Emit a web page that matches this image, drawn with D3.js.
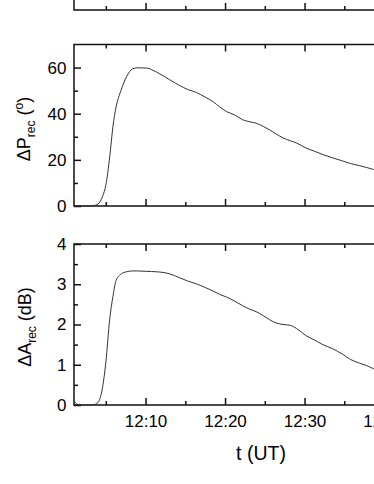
<!DOCTYPE html>
<html>
<head>
<meta charset="utf-8">
<script src="https://cdn.jsdelivr.net/npm/d3@7"></script>
<style>
  body { margin: 0; background: #fff; }
  svg { display: block; }
  text { font-family: "Liberation Sans", Arial, sans-serif; fill: #000; }
</style>
</head>
<body>
<script>
// minutes after 12:00 UT
var times = [1.0, 1.4, 2.0, 3.0, 3.5, 4.0, 4.3, 4.6, 5.0, 5.5, 5.9, 6.3, 6.9, 7.6,
             8.4, 9.0, 10.1, 11.4, 13.0, 14.3, 15.3, 16.4, 17.5, 18.5, 19.3, 20.2,
             21.2, 22.2, 23.1, 23.9, 24.8, 25.6, 26.4, 27.3, 28.2, 29.0, 30.2, 31.2,
             32.3, 33.5, 34.8, 35.8, 36.9, 37.8, 38.7, 40.0];

// phase change (degrees)
var phase = [0, 0, 0, 0, 0.2, 0.8, 2, 4.2, 9, 21.5, 34.5, 43, 50, 56,
             59.5, 59.9, 59.8, 58.0, 54.8, 52.2, 50.5, 49.2, 47.2, 45.2, 43, 40.9,
             39.5, 37.4, 36.5, 35.9, 34.5, 33.0, 31.3, 29.5, 28.3, 27.3, 25.1, 23.8,
             22.3, 20.9, 19.5, 18.4, 17.5, 16.7, 15.8, 14.8];

// amplitude change (dB)
var ampl = [0.1, 0.02, 0, 0, 0.01, 0.06, 0.18, 0.45, 1.05, 2.15, 2.7, 3.1, 3.25, 3.31,
            3.33, 3.33, 3.32, 3.31, 3.26, 3.16, 3.08, 3.01, 2.92, 2.83, 2.75, 2.68,
            2.58, 2.47, 2.38, 2.32, 2.22, 2.12, 2.04, 2.0, 1.98, 1.9, 1.72, 1.62,
            1.5, 1.4, 1.26, 1.13, 1.04, 0.98, 0.9, 0.82];

var xMajor = [10, 20, 30, 40];
var xMinor = [5, 15, 25, 35];
var phaseMajor = [0, 20, 40, 60];
var phaseMinor = [10, 30, 50];
var amplMajor = [0, 1, 2, 3, 4];
var amplMinor = [0.5, 1.5, 2.5, 3.5];

var width = 374, height = 484;
var left = 74, right = 392;

var svg = d3.select('body').append('svg')
    .attr('width', width)
    .attr('height', height);

var x = d3.scaleLinear().domain([1, 41]).range([left, right]);
var yP = d3.scaleLinear().domain([0, 70]).range([206, 44.5]);
var yA = d3.scaleLinear().domain([0, 4]).range([405, 244]);

function fmtTime(d) { return '12:' + d3.format('02')(d); }

function frame(top, bottom) {
    svg.append('rect')
        .attr('x', left).attr('y', top)
        .attr('width', right - left).attr('height', bottom - top)
        .attr('fill', 'none')
        .attr('stroke', '#111')
        .attr('stroke-width', 1.5);
}

function xTicks(yPos, dir, labels) {
    var mk = dir === 'bottom' ? d3.axisBottom : d3.axisTop;
    svg.append('g')
        .attr('transform', 'translate(0,' + yPos + ')')
        .call(mk(x).tickValues(xMajor).tickSize(-7).tickPadding(10)
            .tickFormat(labels ? fmtTime : ''));
    svg.append('g')
        .attr('transform', 'translate(0,' + yPos + ')')
        .call(mk(x).tickValues(xMinor).tickSize(-4).tickFormat(''));
}

function yTicks(scale, major, minor) {
    svg.append('g')
        .attr('transform', 'translate(' + left + ',0)')
        .call(d3.axisLeft(scale).tickValues(major).tickSize(-7).tickPadding(7.5)
            .tickFormat(d3.format('d')));
    svg.append('g')
        .attr('transform', 'translate(' + left + ',0)')
        .call(d3.axisLeft(scale).tickValues(minor).tickSize(-4).tickFormat(''));
}

// top panel (only its bottom edge is visible)
frame(-100, 10);
xTicks(10, 'bottom', false);

// middle panel: phase
frame(44.5, 206);
xTicks(44.5, 'top', false);
xTicks(206, 'bottom', false);
yTicks(yP, phaseMajor, phaseMinor);

// bottom panel: amplitude
frame(244, 405);
xTicks(244, 'top', false);
xTicks(405, 'bottom', true);
yTicks(yA, amplMajor, amplMinor);

svg.selectAll('.domain').remove();
svg.selectAll('.tick line').attr('stroke', '#111').attr('stroke-width', 1.5);
svg.selectAll('.tick text').style('font-size', '17px')
    .style('font-family', '"Liberation Sans", Arial, sans-serif');

var idx = d3.range(times.length);

svg.append('path')
    .datum(idx)
    .attr('fill', 'none')
    .attr('stroke', '#333')
    .attr('stroke-width', 1)
    .attr('d', d3.line()
        .x(function(i) { return x(times[i]); })
        .y(function(i) { return yP(phase[i]); })
        .curve(d3.curveMonotoneX));

svg.append('path')
    .datum(idx)
    .attr('fill', 'none')
    .attr('stroke', '#333')
    .attr('stroke-width', 1)
    .attr('d', d3.line()
        .x(function(i) { return x(times[i]); })
        .y(function(i) { return yA(ampl[i]); })
        .curve(d3.curveMonotoneX));

// axis titles
var tP = svg.append('text')
    .attr('transform', 'translate(30,129) rotate(-90)')
    .attr('text-anchor', 'middle')
    .style('font-size', '18px');
tP.append('tspan').text('ΔP');
tP.append('tspan').text('rec').attr('dy', 5).style('font-size', '12px');
tP.append('tspan').text(' (').attr('dy', -5);
tP.append('tspan').text('o').attr('dy', -7).style('font-size', '12px');
tP.append('tspan').text(')').attr('dy', 7);

var tA = svg.append('text')
    .attr('transform', 'translate(31,327) rotate(-90)')
    .attr('text-anchor', 'middle')
    .style('font-size', '18px');
tA.append('tspan').text('ΔA');
tA.append('tspan').text('rec').attr('dy', 5).style('font-size', '12px');
tA.append('tspan').text(' (dB)').attr('dy', -5);

svg.append('text')
    .attr('x', 261).attr('y', 460)
    .attr('text-anchor', 'middle')
    .style('font-size', '19.5px')
    .text('t (UT)');
</script>
</body>
</html>
